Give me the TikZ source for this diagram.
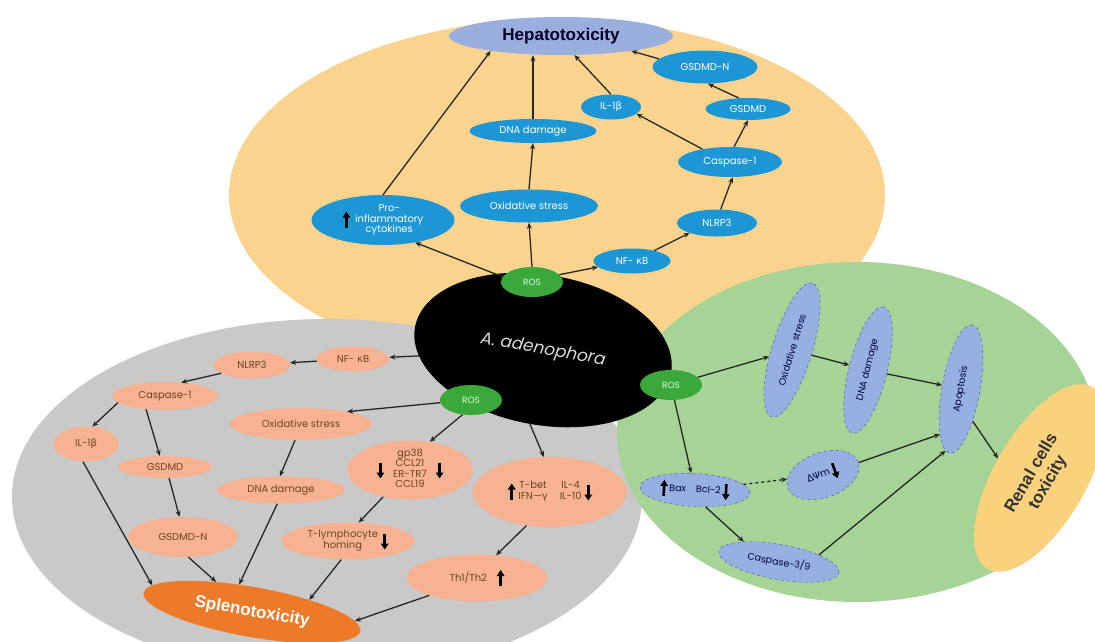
\documentclass[tikz,border=0pt]{standalone}
\usepackage{fontspec}
\setmainfont{Poppins}
\newfontfamily\titlefont{Liberation Sans}
\newfontfamily\grk{DejaVu Sans}
\usetikzlibrary{shapes.geometric,arrows.meta}

\definecolor{liveryellow}{RGB}{250,212,142}
\definecolor{spleengrey}{RGB}{201,201,201}
\definecolor{kidneygreen}{RGB}{166,212,150}
\definecolor{hepblue}{RGB}{28,150,212}
\definecolor{splsalmon}{RGB}{246,178,145}
\definecolor{splorange}{RGB}{237,122,40}
\definecolor{rosgreen}{RGB}{58,168,58}
\definecolor{renblue}{RGB}{150,176,226}
\definecolor{renyellow}{RGB}{250,210,125}
\definecolor{titleblue}{RGB}{155,175,222}

\renewcommand\arraystretch{0.9}
\newcommand\stk[1]{\begin{tabular}{@{}c@{}}#1\end{tabular}}
\newcommand\uparr{\tikz[baseline=-4pt]\draw[black, line width=2.6pt,-{Triangle[length=6pt,width=7.5pt]}] (0pt,-9pt) -- (0pt,7pt);}
\newcommand\dnarr{\tikz[baseline=-4pt]\draw[black, line width=2.6pt,-{Triangle[length=6pt,width=7.5pt]}] (0pt,6pt) -- (0pt,-10pt);}

\tikzset{
  arr/.style={line width=1.3pt, draw=black!85, -{Stealth[length=6pt,width=5pt]}},
  blob/.style={ellipse, inner sep=0pt, align=center},
  sz/.style 2 args={minimum width=#1pt, minimum height=#2pt},
  hepnode/.style={blob, fill=hepblue, text=white, font=\fontsize{10}{11.5}\selectfont},
  splnode/.style={blob, fill=splsalmon, text=brown!55!black, font=\fontsize{10}{11.5}\selectfont},
  rennode/.style={blob, fill=renblue, draw=blue!45!gray, dashed, thin, text=blue!25!black, font=\fontsize{9.5}{11}\selectfont},
  rosnode/.style={blob, fill=rosgreen, text=white!85!green, font=\fontsize{9}{10}\selectfont, sz={62}{30}},
  organ/.style={blob, font=\titlefont\bfseries\fontsize{17}{19}\selectfont},
}

\begin{document}
\begin{tikzpicture}[x=1pt, y=-1pt]
		%%%%% START %%%%%
		\useasboundingbox (0,0) rectangle (1095,641);
		
		\fill[liveryellow] (557,195) ellipse [x radius=328pt, y radius=176pt];
		\fill[spleengrey] (327,497) ellipse [x radius=315pt, y radius=178pt];
		\fill[kidneygreen] (857,432) ellipse [x radius=240pt, y radius=170pt];
		
		\node[blob, fill=black, sz={260}{150}, rotate=-10, text=black!15, font=\itshape\fontsize{17}{19}\selectfont] (adeno) at (543,350) {A. adenophora};
		
		% liver
		\node[organ, fill=titleblue, text=blue!15!black, sz={224}{38}] (hepato) at (561,36) {Hepatotoxicity};
		\node[hepnode, sz={105}{33}] (hGsdmdN) at (705,67) {GSDMD-N};
		\node[hepnode, sz={60}{25}] (hIl) at (611,107) {IL-1{\grk β}};
		\node[hepnode, sz={85}{22}] (hGsdmd) at (748,109) {GSDMD};
		\node[hepnode, sz={127}{24}] (hDna) at (533,131) {DNA damage};
		\node[hepnode, sz={104}{30}] (hCasp) at (730,162) {Caspase-1};
		\node[hepnode, sz={138}{33}] (hOxi) at (529,206) {Oxidative stress};
		\node[hepnode, sz={143}{50}] (hPro) at (383,220) {\uparr\hspace{5pt}\stk{Pro-\\inflammatory\\cytokines}};
		\node[hepnode, sz={80}{27}] (hNlrp) at (717,223) {NLRP3};
		\node[hepnode, sz={77}{25}] (hNfkb) at (632,261) {NF- {\grk κ}B};
		\node[rosnode] (hRos) at (532,282) {ROS};
		
		\draw[arr] (hPro.north) -- (hepato.192);
		\draw[arr] (hDna.north) -- (hDna.north |- hepato.south);
		\draw[arr] (hIl.north) -- (hepato.305);
		\draw[arr] (hGsdmdN.170) -- (hepato.348);
		\draw[arr] (hGsdmd.130) -- (hGsdmdN.-80);
		\draw[arr] (hCasp.75) -- (hGsdmd.south);
		\draw[arr] (hCasp.155) -- (hIl.345);
		\draw[arr] (hNlrp.75) -- (hCasp.-80);
		\draw[arr] (hNfkb.25) -- (hNlrp.200);
		\draw[arr] (hRos.15) -- (hNfkb.190);
		\draw[arr] (hRos.north) -- (hOxi.south);
		\draw[arr] (hOxi.north) -- (hDna.south);
		\draw[arr] (hRos.170) -- (hPro.-35);
		
		% spleen
		\node[organ, fill=splorange, text=white, sz={220}{50}, rotate=-10] (splen) at (252,612) {Splenotoxicity};
		\node[splnode, sz={77}{27}] (sNlrp) at (252,365) {NLRP3};
		\node[splnode, sz={73}{25}] (sNfkb) at (353,359) {NF- {\grk κ}B};
		\node[splnode, sz={106}{28}] (sCasp) at (165,396) {Caspase-1};
		\node[splnode, sz={142}{32}] (sOxi) at (301,424) {Oxidative stress};
		\node[splnode, sz={65}{35}] (sIl) at (86,444) {IL-1{\grk β}};
		\node[splnode, sz={94}{22}] (sGsdmd) at (165,467) {GSDMD};
		\node[splnode, sz={125}{56}] (sGp) at (410,470) {\dnarr\hspace{9pt}\stk{gp38\\CCL21\\ER-TR7\\CCL19}\hspace{9pt}\dnarr};
		\node[splnode, sz={128}{27}] (sDna) at (281,490) {DNA damage};
		\node[splnode, sz={110}{40}] (sGsdmdN) at (183,537) {GSDMD-N};
		\node[splnode, sz={133}{37}] (sTly) at (348,541) {\stk{T-lymphocyte\\homing}\hspace{3pt}\dnarr};
		\node[splnode, sz={154}{70}] (sTbet) at (550,492) {\uparr\hspace{3pt}\stk{T-bet\\IFN—{\grk γ}}\hspace{12pt}\stk{IL-4\\IL-10}\hspace{3pt}\dnarr};
		\node[splnode, sz={141}{47}] (sTh) at (477,578) {Th1/Th2\hspace{10pt}\uparr};
		\node[rosnode] (sRos) at (471,400) {ROS};
		
		\draw[arr] (adeno) -- (sNfkb);
		\draw[arr] (sNfkb) -- (sNlrp);
		\draw[arr] (sNlrp.195) -- (sCasp.40);
		\draw[arr] (sCasp.188) -- (sIl.70);
		\draw[arr] (sCasp.215) -- (sGsdmd.115);
		\draw[arr] (sGsdmd.-70) -- (sGsdmdN.100);
		\draw[arr] (sRos.185) -- (sOxi.15);
		\draw[arr] (sOxi.-110) -- (sDna.95);
		\draw[arr] (sRos.-120) -- (sGp.55);
		\draw[arr] (sGp.-135) -- (sTly.60);
		\draw[arr] (adeno.south) -- (sTbet.100);
		\draw[arr] (sTbet.-125) -- (sTh.50);
		\draw[arr] (sIl.-100) -- (splen.175);
		\draw[arr] (sGsdmdN.-75) -- (splen.150);
		\draw[arr] (sDna.-105) -- (splen.125);
		\draw[arr] (sTly.-110) -- (splen.22);
		\draw[arr] (sTh.200) -- (splen.5);
		
		% kidney
		\node[organ, fill=renyellow, text=black!80, sz={210}{92}, rotate=60] (renal) at (1040,478) {Renal cells\\toxicity};
		\node[rosnode] (rRos) at (671,385) {ROS};
		\node[rennode, sz={140}{40}, rotate=73] (rOxi) at (792,350) {Oxidative stress};
		\node[rennode, sz={130}{38}, rotate=76] (rDna) at (868,370) {DNA damage};
		\node[rennode, sz={130}{38}, rotate=80] (rApo) at (961,389) {Apoptosis};
		\node[rennode, sz={110}{33}, rotate=-3] (rBax) at (695,490) {\uparr\,Bax\hspace{10pt}Bcl-2\,\dnarr};
		\node[rennode, sz={75}{45}, rotate=20] (rMmp) at (823,475) {{\grk ΔΨ}m\,\dnarr};
		\node[rennode, sz={122}{35}, rotate=-10] (rCasp) at (779,562) {Caspase-3/9};
		
		\draw[arr] (rRos) -- (rOxi);
		\draw[arr] (rOxi) -- (rDna);
		\draw[arr] (rDna) -- (rApo);
		\draw[arr] (rRos) -- (rBax);
		\draw[arr, dashed] (rBax) -- (rMmp);
		\draw[arr] (rMmp) -- (rApo.165);
		\draw[arr] (rBax.-55) -- (rCasp.160);
		\draw[arr] (rCasp.20) -- (rApo.176);
		\draw[arr] (rApo.-150) -- (renal.95);
		
		%%%%% END %%%%%
	\end{tikzpicture}
\end{document}
